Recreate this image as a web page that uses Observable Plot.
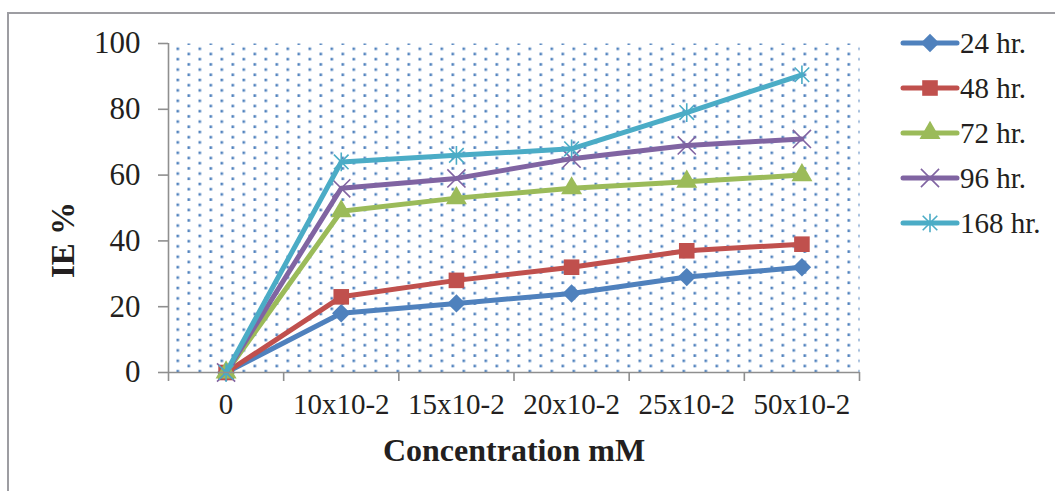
<!DOCTYPE html>
<html>
<head>
<meta charset="utf-8">
<script src="https://cdn.jsdelivr.net/npm/d3@7"></script>
<script src="https://cdn.jsdelivr.net/npm/@observablehq/plot@0.6"></script>
<style>
  html, body { margin: 0; padding: 0; background: #fff; overflow: hidden; }
  #wrap { position: relative; width: 1055px; height: 491px; overflow: hidden; }
  #border { position: absolute; left: 7px; top: 12px; width: 1200px; height: 700px;
            border-top: 2px solid #9d9da2; border-left: 2px solid #9d9da2; }
  #chart { position: absolute; left: 0; top: 0; }
  #legend { position: absolute; left: 895px; top: 20px; }
</style>
</head>
<body>
<div id="wrap">
  <div id="border"></div>
  <div id="chart"></div>
  <svg id="legend" width="160" height="230"></svg>
</div>
<script>
// ---- data ----
const categories = ["0", "10x10-2", "15x10-2", "20x10-2", "25x10-2", "50x10-2"];
const seriesNames = ["24 hr.", "48 hr.", "72 hr.", "96 hr.", "168 hr."];
const ie24  = [0, 18, 21, 24, 29, 32];
const ie48  = [0, 23, 28, 32, 37, 39];
const ie72  = [0, 49, 53, 56, 58, 60];
const ie96  = [0, 56, 59, 65, 69, 71];
const ie168 = [0, 64, 66, 68, 79, 90.5];
const yTicks = [0, 20, 40, 60, 80, 100];
const xLabel = "Concentration mM";
const yLabel = "IE %";

// ---- styles ----
const colors = ["#4F81BD", "#C0504D", "#9BBB59", "#8064A2", "#4BACC6"];
const starSymbol = {
  draw(context, size) {
    const r = Math.sqrt(size) * 0.6;
    const d = r * 0.78;
    context.moveTo(0, -r); context.lineTo(0, r);
    context.moveTo(-d, -d); context.lineTo(d, d);
    context.moveTo(-d, d); context.lineTo(d, -d);
  }
};
const symbols = ["diamond2", "square", "triangle", "times", starSymbol];
const radii = [8.3, 8.8, 7.8, 8.3, 8.8];
const filled = [true, true, true, false, false];
const values = [ie24, ie48, ie72, ie96, ie168];

const rows = seriesNames.map((s, k) => values[k].map((v, i) => ({series: s, i, v})));
const bounds = d3.range(categories.length + 1).map(i => i - 0.5);
const axisColor = "#8f8f8f";
const textColor = "#231f20";

const marks = [
  Plot.frame({fill: "url(#dotpat)", stroke: "none"})
];
rows.forEach((data, k) => {
  marks.push(Plot.line(data, {x: "i", y: "v", stroke: colors[k], strokeWidth: 5,
    strokeLinejoin: "round", strokeLinecap: "round"}));
  marks.push(Plot.dot(data, {x: "i", y: "v", symbol: () => symbols[k], r: radii[k],
    fill: filled[k] ? colors[k] : "none",
    stroke: filled[k] ? "none" : colors[k],
    strokeWidth: filled[k] ? 0 : 1.6}));
});
marks.push(
  Plot.ruleX([-0.5], {stroke: axisColor, strokeWidth: 1.6}),
  Plot.ruleY([0], {stroke: axisColor, strokeWidth: 1.6}),
  Plot.axisY({ticks: yTicks, label: null, tickSize: 10, tickPadding: 18, fontSize: 31,
    stroke: axisColor, strokeWidth: 1.6, fill: textColor, strokeOpacity: 1, tickFormat: d => String(d)}),
  Plot.axisX({ticks: bounds, label: null, tickSize: 9, tickFormat: () => "", stroke: axisColor, strokeWidth: 1.6, strokeOpacity: 1}),
  Plot.axisX({ticks: d3.range(categories.length), label: null, tickSize: 0, tickPadding: 21, fontSize: 29,
    fill: textColor, tickFormat: i => categories[i]}),
  Plot.text([xLabel], {text: d => d, frameAnchor: "bottom", dy: 88, lineAnchor: "bottom",
    fontSize: 32, fontWeight: "bold", fill: textColor}),
  Plot.text([yLabel], {text: d => d, frameAnchor: "left", dx: -105, dy: 32, rotate: -90,
    lineAnchor: "middle", textAnchor: "middle", fontSize: 33, fontWeight: "bold", fill: textColor})
);

const chart = Plot.plot({
  width: 1055,
  height: 491,
  marginLeft: 168,
  marginRight: 196,
  marginTop: 43,
  marginBottom: 119,
  style: {fontFamily: "'Liberation Serif', 'Times New Roman', serif", background: "transparent", color: textColor, overflow: "visible"},
  x: {domain: [-0.5, categories.length - 0.5], axis: null},
  y: {domain: [0, 100], axis: null},
  marks
});

// dotted plot-area fill pattern
const defs = d3.select(chart).insert("defs", ":first-child");
const pat = defs.append("pattern").attr("id", "dotpat")
  .attr("patternUnits", "userSpaceOnUse").attr("x", 0).attr("y", 0)
  .attr("width", 22).attr("height", 10.4);
pat.append("rect").attr("x", 0).attr("y", 5.4).attr("width", 2.6).attr("height", 2.6).attr("fill", "#4F81BD");
pat.append("rect").attr("x", 11).attr("y", 0.2).attr("width", 2.6).attr("height", 2.6).attr("fill", "#4F81BD");

document.getElementById("chart").appendChild(chart);

// legend
const lg = d3.select("#legend");
seriesNames.forEach((s, k) => {
  const y = 23 + k * 45;
  const g = lg.append("g");
  g.append("line").attr("x1", 8).attr("x2", 62).attr("y1", y).attr("y2", y)
    .attr("stroke", colors[k]).attr("stroke-width", 5).attr("stroke-linecap", "round");
  const symType = typeof symbols[k] === "string"
    ? {diamond2: d3.symbolDiamond2, square: d3.symbolSquare, triangle: d3.symbolTriangle, times: d3.symbolTimes}[symbols[k]]
    : symbols[k];
  g.append("path").attr("transform", `translate(35,${y})`)
    .attr("d", d3.symbol(symType, Math.PI * radii[k] * radii[k])())
    .attr("fill", filled[k] ? colors[k] : "none")
    .attr("stroke", filled[k] ? "none" : colors[k])
    .attr("stroke-width", 1.6);
  g.append("text").attr("x", 65).attr("y", y).attr("dy", "0.33em")
    .attr("font-family", "'Liberation Serif', 'Times New Roman', serif")
    .attr("font-size", 29).attr("fill", textColor).text(s);
});
</script>
</body>
</html>
